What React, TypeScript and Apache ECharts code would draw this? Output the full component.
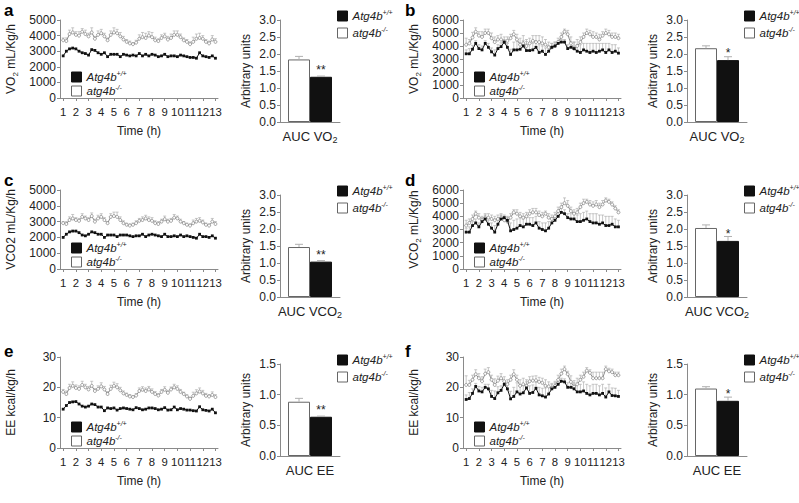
import React, { useEffect, useRef } from "react";
import * as echarts from "echarts";

// ---------- data ----------
const TIME = [1,1.25,1.5,1.75,2,2.25,2.5,2.75,3,3.25,3.5,3.75,4,4.25,4.5,4.75,5,5.25,5.5,5.75,6,6.25,6.5,6.75,7,7.25,7.5,7.75,8,8.25,8.5,8.75,9,9.25,9.5,9.75,10,10.25,10.5,10.75,11,11.25,11.5,11.75,12,12.25,12.5,12.75,13];
const HOUR_TICKS = [1,2,3,4,5,6,7,8,9,10,11,12,13];

const SERIES_WT = "Atg4b+/+";
const SERIES_KO = "atg4b-/-";

// panel a – VO2
const A_WT = [2700,3000,3150,3200, 3150,3000,2900,2850, 2750,3100,3050,2900, 2800,2900,2650,2800, 2800,2800,2650,2800, 2750,2700,2750,2700, 2850,2700,2800,2700, 2800,2750,2650,2700, 2800,2650,2700,2700, 2650,2750,2700,2650, 2600,2600,2550,2900, 2700,2650,2600,2700, 2550];
const A_KO = [3700,3650,4100,4200, 4050,4000,4250,4100, 3950,4200,3800,4050, 4150,3950,3700,4050, 4200,4150,3950,3750, 3600,3500,3450,3550, 3800,3900,3850,4000, 3900,3700,3650,3850, 3950,3750,3850,4050, 4050,3900,3700,3600, 3450,3600,3800,3850, 3800,3600,3500,3750, 3600];
const A_KO_ERR = [150,200,250,300, 200,250,200,250, 200,300,150,250, 250,200,150,250, 300,250,250,200, 150,150,100,150, 250,300,300,250, 300,200,150,200, 200,200,250,250, 250,200,150,150, 150,300,300,300, 200,150,150,250, 200];

// panel b – VO2
const B_WT = [3400,3400,3750,4200, 3800,3700,4200,3900, 3550,3300,3800,3950, 4300,3900,3350,3700, 3700,3750,4000,3650, 3650,3700,3900,3500, 3600,3350,3600,3900, 4000,4200,4300,4300, 3800,3900,3800,3600, 3500,3700,3600,3500, 3600,3500,3600,3700, 3500,3700,3500,3600, 3450];
const B_WT_ERR = [300,400,300,200, 300,300,200,300, 300,400,300,300, 200,300,400,600, 700,500,400,700, 600,500,500,600, 400,500,400,300, 300,200,200,200, 300,400,500,500, 600,500,600,700, 600,700,600,500, 700,500,600,500, 400];
const B_KO = [4100,4200,4650,5100, 4800,4700,5000,5000, 4600,4300,4500,4500, 4300,4400,4600,4900, 4500,4100,4200,4000, 4200,4400,4300,4300, 4200,4100,3900,3900, 4000,4300,4700,5100, 4900,4200,3800,4000, 4300,4700,5000,4900, 4700,4700,4500,4800, 5000,4900,4700,4700, 4600];
const B_KO_ERR = [500,300,400,300, 300,400,300,300, 400,400,300,400, 400,300,300,300, 400,500,600,500, 400,400,500,500, 500,400,400,300, 300,300,300,200, 300,500,500,500, 400,300,300,300, 400,300,400,300, 300,300,300,300, 300];

// panel c – VCO2
const C_WT = [2000,2200,2350,2400, 2400,2300,2150,2100, 2200,2350,2300,2200, 2200,2000,2150,2150, 2150,2050,2150,2150, 2150,2100,2050,2100, 2100,2200,2050,2150, 2200,2150,2100,2050, 2200,2050,2050,2100, 2050,2150,2050,2100, 2050,2000,1950,2200, 2050,2050,2000,2100, 1950];
const C_KO = [2900,2850,3100,3200, 3100,3050,3300,3200, 3100,3350,3000,3200, 3300,3100,2900,3300, 3350,3300,3100,2900, 2800,2750,2800,2900, 3050,3100,3200,3100, 3050,2900,2850,3000, 3150,3000,3050,3250, 3200,3000,2900,2800, 2750,2900,3000,3050, 2950,2800,2750,3000, 2850];
const C_KO_ERR = [100,150,200,250, 150,150,200,150, 150,200,150,200, 200,150,100,200, 250,300,200,150, 100,100,100,150, 150,200,200,200, 200,150,150,150, 200,150,150,200, 150,150,100,100, 100,200,200,200, 150,100,100,200, 150];

// panel d – VCO2
const D_WT = [2800,2800,3300,3500, 3200,3600,3800,3400, 3100,2800,3400,3800, 3900,3700,2900,3000, 3100,3300,3200,3400, 3400,3300,3500,3100, 3000,2900,3100,3500, 3700,4000,4300,4200, 3900,3800,3800,3600, 3600,3700,3800,3600, 3500,3500,3400,3500, 3300,3300,3400,3200, 3200];
const D_WT_ERR = [300,400,300,300, 300,300,300,300, 400,500,400,300, 200,300,600,700, 700,600,600,500, 500,600,500,500, 500,600,500,400, 300,300,300,300, 300,400,400,500, 600,600,600,600, 700,700,700,600, 700,700,600,600, 500];
const D_KO = [3300,3500,3800,4200, 3900,3700,3900,3900, 3800,3700,3800,3900, 3700,3600,3900,4300, 4200,4000,3900,4000, 4200,4300,4300,4100, 4000,4200,3900,3800, 4000,4400,4700,5000, 4800,4400,4200,4300, 4700,5000,5100,4900, 4800,4900,4700,4900, 5200,5100,4900,4600, 4300];
const D_KO_ERR = [400,300,300,200, 300,300,300,300, 300,300,300,300, 300,300,300,200, 300,300,300,300, 300,300,300,300, 300,200,300,300, 300,300,300,400, 400,300,300,300, 300,300,200,300, 300,300,300,300, 200,200,200,200, 200];

// panel e – EE
const E_WT = [12.8,14.0,15.0,15.2, 15.3,14.5,13.8,13.5, 13.8,14.5,14.3,13.5, 13.5,12.3,13.2,13.0, 13.2,12.5,13.0,13.2, 13.0,12.8,12.6,13.3, 13.0,12.6,12.8,13.2, 13.2,13.0,12.6,12.8, 13.3,12.5,12.6,13.5, 12.6,13.0,12.8,12.5, 12.5,12.3,12.2,13.6, 12.6,12.4,12.2,12.8, 11.6];
const E_KO = [18.5,17.8,19.8,20.5, 19.8,19.5,20.8,20.0, 19.3,20.5,18.8,19.5, 20.3,19.3,17.8,19.5, 20.5,20.0,19.0,18.0, 17.5,17.0,16.8,17.3, 18.8,19.2,18.8,19.3, 18.5,17.8,17.3,18.5, 19.2,18.2,19.3,20.0, 19.5,18.5,17.8,17.0, 16.2,17.2,18.0,18.6, 18.0,17.2,17.0,17.5, 16.8];
const E_KO_ERR = [0.8,1.0,1.2,1.3, 1.0,1.0,1.2,1.0, 1.0,1.5,0.8,1.0, 1.2,1.0,0.8,1.2, 1.2,1.2,1.0,0.8, 0.6,0.6,0.5,0.6, 1.0,1.0,1.0,1.0, 1.0,0.8,0.6,0.8, 1.0,0.8,0.8,1.0, 1.0,0.8,0.6,0.5, 0.6,1.2,1.2,1.2, 1.0,0.8,0.6,1.0, 0.8];

// panel f – EE
const F_WT = [16.0,16.3,18.0,20.3, 18.8,18.5,20.0,19.5, 17.0,16.3,18.2,19.0, 21.0,19.5,16.2,17.0, 18.5,17.8,18.2,19.8, 18.0,18.3,19.7,17.5, 17.2,16.8,17.8,19.5, 20.0,21.0,22.0,21.8, 20.0,20.0,19.5,18.5, 18.5,18.8,18.0,17.5, 18.0,18.0,17.5,18.0, 16.8,18.5,17.3,17.2, 17.0];
const F_WT_ERR = [1.5,2.0,1.5,1.0, 1.5,1.5,1.0,1.5, 2.0,2.5,2.0,1.5, 1.0,1.5,2.5,3.0, 3.0,2.5,2.5,2.0, 2.5,2.5,2.0,2.5, 2.5,3.0,2.5,1.5, 1.5,1.0,1.0,1.0, 1.5,1.5,2.0,2.5, 2.5,3.0,3.0,3.0, 3.0,3.0,3.0,3.0, 3.0,2.5,2.5,2.5, 2.0];
const F_KO = [20.8,20.8,22.5,24.3, 23.0,22.0,24.5,25.0, 22.5,20.8,22.2,23.0, 22.0,21.0,22.5,24.3, 22.5,20.5,21.0,20.5, 22.0,22.2,22.3,21.8, 21.5,20.5,20.3,19.8, 20.5,22.5,24.5,26.0, 24.3,21.8,20.2,21.0, 22.5,23.5,25.5,24.8, 23.0,23.0,23.0,23.0, 26.0,25.3,25.0,24.0, 24.0];
const F_KO_ERR = [3.0,1.5,1.5,1.5, 1.5,1.5,1.5,1.5, 1.5,2.0,1.5,1.5, 1.5,1.5,1.5,1.5, 1.5,2.0,2.0,2.0, 1.5,1.5,1.5,1.5, 1.5,2.0,1.5,1.5, 1.5,1.5,1.5,1.0, 1.0,2.0,2.0,2.0, 1.5,1.5,1.0,1.0, 2.0,2.0,2.0,2.0, 1.0,1.0,1.0,1.0, 1.0];

// AUC bars (panels a–f)
const BAR_KO = [1.84, 2.17, 1.47, 2.03, 0.885, 1.10];
const BAR_KO_ERR = [0.09, 0.07, 0.08, 0.09, 0.055, 0.03];
const BAR_WT = [1.33, 1.82, 1.04, 1.65, 0.64, 0.90];
const BAR_WT_ERR = [0.02, 0.10, 0.03, 0.13, 0.01, 0.06];
const BAR_STARS = ["**", "*", "**", "*", "**", "*"];
const BAR_LABELS = ["AUC VO{s|2}", "AUC VO{s|2}", "AUC VCO{s|2}", "AUC VCO{s|2}", "AUC EE", "AUC EE"];
const BAR_Y_MAX = [3, 3, 3, 3, 1.5, 1.5];

const PANEL_LETTERS = ["a", "b", "c", "d", "e", "f"];
const LINE_Y_NAMES = ["VO{s|2} mL/Kg/h", "VO{s|2} mL/Kg/h", "VCO2 mL/Kg/h", "VCO{s|2} mL/Kg/h", "EE kcal/kg/h", "EE kcal/kg/h"];
const LINE_Y_MAX = [5000, 6000, 5000, 6000, 30, 30];
const LINE_Y_INTERVAL = [1000, 1000, 1000, 1000, 10, 10];

const LINE_WT = [A_WT, B_WT, C_WT, D_WT, E_WT, F_WT];
const LINE_WT_ERR = [null, B_WT_ERR, null, D_WT_ERR, null, F_WT_ERR];
const LINE_KO = [A_KO, B_KO, C_KO, D_KO, E_KO, F_KO];
const LINE_KO_ERR = [A_KO_ERR, B_KO_ERR, C_KO_ERR, D_KO_ERR, E_KO_ERR, F_KO_ERR];

// ---------- layout / style ----------
const FONT = "Liberation Sans, Arial, Helvetica, sans-serif";
const TXT = "#222";
const AXIS = "#8a8a8a";
const ERR = "#b0b0b0";
const LETTER_X = [4, 405];
const LETTER_Y = [2, 172, 343];
const LINE_LEFT = [60, 463];
const LINE_W = 158;
const LINE_TOP = [20, 190, 357];
const LINE_H = [78, 79, 91];
const BAR_LEFT = [280, 687];
const BAR_TOP = [20, 195, 364];
const BAR_H = [102, 102, 92];
const BAR_W = 22;

const richSub = { s: { fontSize: 8, verticalAlign: "bottom", lineHeight: 8 } };
const legendRich = {
  i: { fontSize: 11.5, fontStyle: "italic", color: TXT, lineHeight: 14 },
  p: { fontSize: 7, fontStyle: "italic", color: TXT, verticalAlign: "top", lineHeight: 8 },
};
const legendFormatter = (n: string) =>
  n === SERIES_WT ? "{i|Atg4b}{p|+/+}" : "{i|atg4b}{p|-/-}";
const legendData = [
  { name: SERIES_WT, itemStyle: { color: "#111", borderColor: "#111", borderWidth: 1 } },
  { name: SERIES_KO, itemStyle: { color: "#fff", borderColor: "#666", borderWidth: 1 } },
];

function lineErr(gi: number, ys: number[], es: number[]) {
  return {
    type: "custom",
    xAxisIndex: gi,
    yAxisIndex: gi,
    silent: true,
    z: 1,
    encode: { x: 0, y: 1 },
    data: TIME.map((t, k) => [t, ys[k], es[k]]),
    renderItem: (_p: any, api: any) => {
      const x = api.value(0), y = api.value(1), e = api.value(2);
      const a = api.coord([x, y]);
      const b = api.coord([x, y + e]);
      const st = { stroke: ERR, lineWidth: 0.7 };
      return {
        type: "group",
        children: [
          { type: "line", shape: { x1: a[0], y1: a[1], x2: b[0], y2: b[1] }, style: st },
          { type: "line", shape: { x1: b[0] - 1.5, y1: b[1], x2: b[0] + 1.5, y2: b[1] }, style: st },
        ],
      };
    },
  };
}

function barErr(gi: number, v: number, e: number, shift: number) {
  return {
    type: "custom",
    xAxisIndex: gi,
    yAxisIndex: gi,
    silent: true,
    z: 4,
    data: [[0, v, e]],
    renderItem: (_p: any, api: any) => {
      const a = api.coord([api.value(0), api.value(1)]);
      const b = api.coord([api.value(0), api.value(1) + api.value(2)]);
      const x = a[0] + shift;
      const st = { stroke: ERR, lineWidth: 1 };
      return {
        type: "group",
        children: [
          { type: "line", shape: { x1: x, y1: a[1], x2: x, y2: b[1] }, style: st },
          { type: "line", shape: { x1: x - 4, y1: b[1], x2: x + 4, y2: b[1] }, style: st },
        ],
      };
    },
  };
}

function buildOption() {
  const grid: any[] = [], xAxis: any[] = [], yAxis: any[] = [], series: any[] = [], legend: any[] = [], graphic: any[] = [];
  const axisLine = { show: true, lineStyle: { color: AXIS, width: 1 } };
  const axisTick = { show: true, length: 3, lineStyle: { color: AXIS } };

  for (let i = 0; i < 6; i++) {
    const col = i % 2, row = Math.floor(i / 2);
    const gl = 2 * i, gb = 2 * i + 1;

    graphic.push({
      type: "text", left: LETTER_X[col], top: LETTER_Y[row],
      style: { text: PANEL_LETTERS[i], font: `bold 17px ${FONT}`, fill: "#000" },
    });

    // ---- time course ----
    const lt = LINE_TOP[row], lh = LINE_H[row];
    grid.push({ left: LINE_LEFT[col], top: lt, width: LINE_W, height: lh });
    xAxis.push({
      gridIndex: gl, type: "value", min: 0.75, max: 13.2,
      axisLine, splitLine: { show: false },
      axisTick: { ...axisTick, customValues: HOUR_TICKS },
      axisLabel: {
        customValues: HOUR_TICKS, fontSize: 11.3, color: TXT, margin: 8, fontFamily: FONT,
        hideOverlap: false, showMaxLabel: true, showMinLabel: true,
      },
      name: "Time (h)", nameLocation: "middle", nameGap: 27,
      nameTextStyle: { fontSize: 12, color: TXT, fontFamily: FONT },
    });
    yAxis.push({
      gridIndex: gl, type: "value", min: 0, max: LINE_Y_MAX[i], interval: LINE_Y_INTERVAL[i],
      axisLine, axisTick, splitLine: { show: false },
      axisLabel: { fontSize: 12, color: TXT, margin: 4, fontFamily: FONT, formatter: (v: number) => String(v) },
      name: LINE_Y_NAMES[i], nameLocation: "middle", nameRotate: 90, nameGap: 41,
      nameTextStyle: { fontSize: 12, color: TXT, fontFamily: FONT, lineHeight: 16, rich: richSub },
    });
    const wtErr = LINE_WT_ERR[i];
    if (wtErr) series.push(lineErr(gl, LINE_WT[i], wtErr));
    series.push(lineErr(gl, LINE_KO[i], LINE_KO_ERR[i]));
    series.push({
      type: "line", name: SERIES_KO, xAxisIndex: gl, yAxisIndex: gl, z: 2,
      data: TIME.map((t, k) => [t, LINE_KO[i][k]]),
      symbol: "circle", symbolSize: 3,
      itemStyle: { color: "#fff", borderColor: "#888", borderWidth: 0.8 },
      lineStyle: { color: "#8c8c8c", width: 1 },
    });
    series.push({
      type: "line", name: SERIES_WT, xAxisIndex: gl, yAxisIndex: gl, z: 3,
      data: TIME.map((t, k) => [t, LINE_WT[i][k]]),
      symbol: "rect", symbolSize: 2.8,
      itemStyle: { color: "#111" },
      lineStyle: { color: "#111", width: 1 },
    });
    legend.push({
      left: LINE_LEFT[col] + 6, top: lt + lh - 33, orient: "vertical", itemGap: 1,
      itemWidth: 10, itemHeight: 10, icon: "rect", selectedMode: false,
      data: legendData, formatter: legendFormatter,
      textStyle: { fontFamily: FONT, rich: legendRich },
    });

    // ---- AUC bars ----
    const bt = BAR_TOP[row];
    grid.push({ left: BAR_LEFT[col], top: bt, width: 60, height: BAR_H[row] });
    xAxis.push({
      gridIndex: gb, type: "category", data: [BAR_LABELS[i]],
      axisLine, axisTick: { show: false },
      axisLabel: { fontSize: 13, color: TXT, margin: 6, fontFamily: FONT, lineHeight: 16, rich: { s: { fontSize: 9, verticalAlign: "bottom", lineHeight: 9 } } },
    });
    yAxis.push({
      gridIndex: gb, type: "value", min: 0, max: BAR_Y_MAX[i], interval: 0.5,
      axisLine, axisTick, splitLine: { show: false },
      axisLabel: { fontSize: 12, color: TXT, margin: 4, fontFamily: FONT, formatter: (v: number) => v.toFixed(1) },
      name: "Arbitrary units", nameLocation: "middle", nameRotate: 90, nameGap: 28,
      nameTextStyle: { fontSize: 12, color: TXT, fontFamily: FONT },
    });
    series.push({
      type: "bar", name: SERIES_KO, xAxisIndex: gb, yAxisIndex: gb, z: 2,
      data: [BAR_KO[i]], barWidth: BAR_W, barGap: "0%",
      itemStyle: { color: "#fff", borderColor: "#666", borderWidth: 1 },
    });
    series.push({
      type: "bar", name: SERIES_WT, xAxisIndex: gb, yAxisIndex: gb, z: 2,
      data: [BAR_WT[i]], barWidth: BAR_W, barGap: "0%",
      itemStyle: { color: "#111", borderColor: "#111", borderWidth: 1 },
      label: {
        show: true, position: "top", distance: 1, formatter: BAR_STARS[i],
        fontSize: 12, color: TXT, fontFamily: FONT,
      },
    });
    series.push(barErr(gb, BAR_KO[i], BAR_KO_ERR[i], -BAR_W / 2));
    series.push(barErr(gb, BAR_WT[i], BAR_WT_ERR[i], BAR_W / 2));
    legend.push({
      left: BAR_LEFT[col] + 52, top: bt - 16, orient: "vertical", itemGap: 4,
      itemWidth: 10, itemHeight: 10, icon: "rect", selectedMode: false,
      data: legendData, formatter: legendFormatter,
      textStyle: { fontFamily: FONT, rich: legendRich },
    });
  }

  return {
    animation: false,
    backgroundColor: "#fff",
    textStyle: { fontFamily: FONT, color: TXT },
    grid, xAxis, yAxis, series, legend, graphic,
  };
}

export default function App() {
  const ref = useRef<HTMLDivElement>(null);
  useEffect(() => {
    if (!ref.current) return;
    const chart = echarts.init(ref.current, null, { renderer: "svg" });
    chart.setOption(buildOption() as any);
    return () => chart.dispose();
  }, []);
  return (
    <div
      ref={ref}
      style={{ position: "fixed", left: 0, top: 0, width: 799, height: 503, background: "#fff" }}
    />
  );
}
